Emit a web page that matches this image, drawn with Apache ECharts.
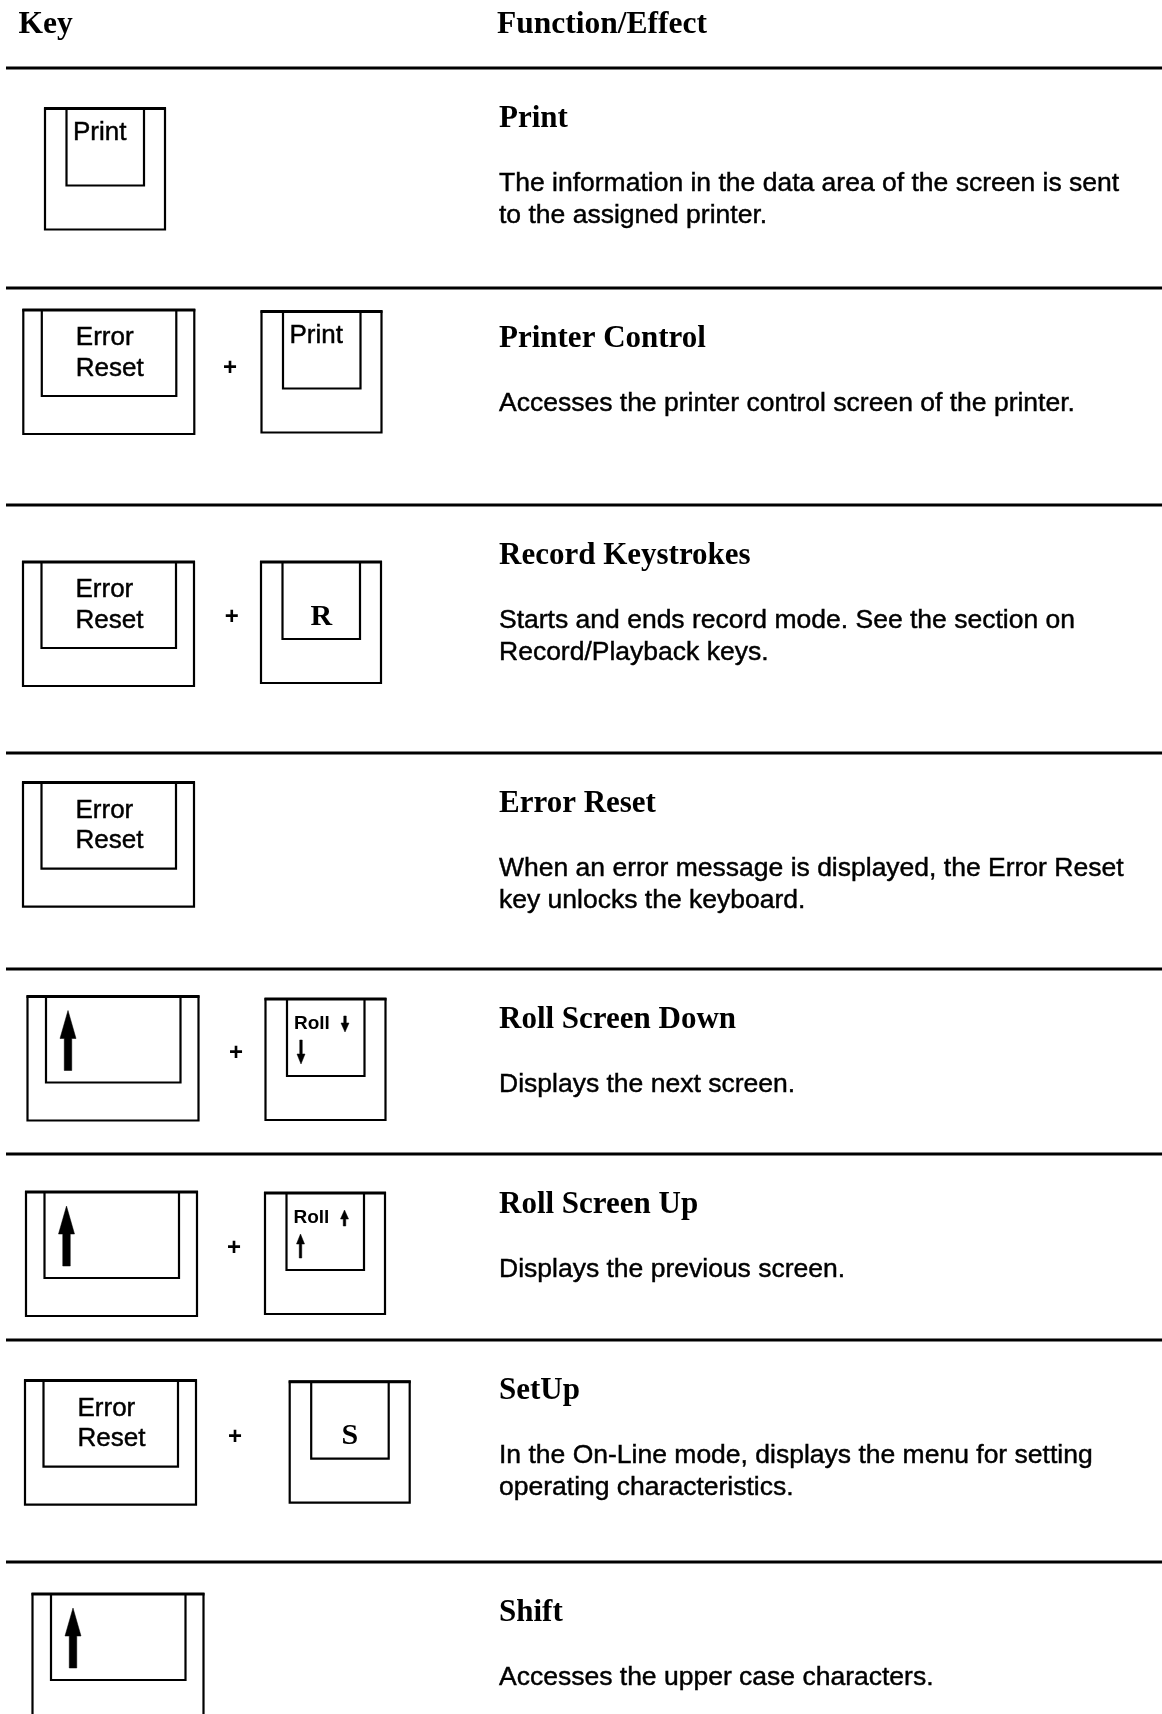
<!DOCTYPE html>
<html>
<head>
<meta charset="utf-8">
<script src="https://cdn.jsdelivr.net/npm/echarts@6/dist/echarts.min.js"></script>
<style>
  html, body { margin: 0; padding: 0; background: #fff; }
  #chart { width: 1162px; height: 1714px; }
</style>
</head>
<body>
<div id="chart"></div>
<script>
// ---- content (data) ----
const headers = ['Key', 'Function/Effect'];
const titles = ['Print', 'Printer Control', 'Record Keystrokes', 'Error Reset',
  'Roll Screen Down', 'Roll Screen Up', 'SetUp', 'Shift'];
const descriptions = [
  'The information in the data area of the screen is sent\nto the assigned printer.',
  'Accesses the printer control screen of the printer.',
  'Starts and ends record mode. See the section on\nRecord/Playback keys.',
  'When an error message is displayed, the Error Reset\nkey unlocks the keyboard.',
  'Displays the next screen.',
  'Displays the previous screen.',
  'In the On-Line mode, displays the menu for setting\noperating characteristics.',
  'Accesses the upper case characters.'
];
const keyCombos = [
  ['Print'],
  ['Error Reset', 'Print'],
  ['Error Reset', 'R'],
  ['Error Reset'],
  ['Shift', 'Roll Down'],
  ['Shift', 'Roll Up'],
  ['Error Reset', 'S'],
  ['Shift']
];

// ---- layout (positions, not data) ----
const ruleY = [68, 288, 505, 753, 969, 1154, 1340, 1562];
const keyPos = [
  [[45, 108.5]],
  [[23.3, 310], [261.5, 311.5]],
  [[23, 562], [261, 562]],
  [[23, 782.6]],
  [[27.5, 996.5], [265.5, 999]],
  [[26, 1192], [265, 1193]],
  [[25, 1380.6], [289.7, 1381.7]],
  [[32.5, 1594]]
];
const plusPos = [null, [230, 368], [231.7, 617.6], null, [236, 1053], [234, 1248], [235, 1437.5], null];

const SERIF = '"Liberation Serif", "DejaVu Serif", serif';
const SANS = '"Liberation Sans", Arial, Helvetica, sans-serif';
const INK = '#000';

const els = [];

function txt(x, y, text, font, align, valign, extra) {
  els.push({
    type: 'text', x: x, y: y, z: 10,
    style: Object.assign({
      text: text, font: font, fill: INK,
      textAlign: align || 'left', textVerticalAlign: valign || 'middle',
      align: align || 'left', verticalAlign: valign || 'middle'
    }, extra || {})
  });
}
const heavy = { stroke: INK, lineWidth: 0.45 };

function upArrow(cx, ty, by, hh, hw, sw, dir) {
  let pts;
  if (dir === 1) {
    pts = [[cx, ty], [cx + hw / 2, ty + hh], [cx + sw / 2, ty + hh], [cx + sw / 2, by],
      [cx - sw / 2, by], [cx - sw / 2, ty + hh], [cx - hw / 2, ty + hh]];
  } else {
    pts = [[cx, by], [cx + hw / 2, by - hh], [cx + sw / 2, by - hh], [cx + sw / 2, ty],
      [cx - sw / 2, ty], [cx - sw / 2, by - hh], [cx - hw / 2, by - hh]];
  }
  els.push({ type: 'polygon', z: 8, shape: { points: pts }, style: { fill: INK, stroke: INK, lineWidth: 0.5 } });
}

function drawKey(label, x, y) {
  const wide = (label === 'Error Reset' || label === 'Shift');
  const w = wide ? 171 : 120;
  const h = wide ? 124 : 121;
  const iL = wide ? 18.5 : 21.5;
  const iR = wide ? 18 : 21;
  const ih = wide ? 86 : 77;
  els.push({ type: 'rect', z: 5, shape: { x: x, y: y, width: w, height: h },
    style: { fill: '#fff', stroke: INK, lineWidth: 2.2 } });
  els.push({ type: 'polyline', z: 6, shape: { points: [[x + iL, y], [x + iL, y + ih], [x + w - iR, y + ih], [x + w - iR, y]] },
    style: { fill: null, stroke: INK, lineWidth: 2.2 } });
  els.push({ type: 'line', z: 7, shape: { x1: x - 1, y1: y, x2: x + w + 1, y2: y },
    style: { stroke: INK, lineWidth: 3 } });
  const il = x + iL, ir = x + w - iR;
  if (label === 'Error Reset') {
    txt(il + 34, y + 28, 'Error', '26px ' + SANS, 'left', 'middle', heavy);
    txt(il + 34, y + 58.5, 'Reset', '26px ' + SANS, 'left', 'middle', heavy);
  } else if (label === 'Print') {
    txt(il + 6.5, y + 24, 'Print', '26px ' + SANS, 'left', 'middle', heavy);
  } else if (label === 'R' || label === 'S') {
    txt((il + ir) / 2, y + 55, label, 'bold 30px ' + SERIF, 'center');
  } else if (label === 'Shift') {
    upArrow(il + 22, y + 14, y + 74, 28, 16, 7.5, 1);
  } else if (label === 'Roll Down' || label === 'Roll Up') {
    txt(il + 7, y + 24.5, 'Roll', 'bold 19px ' + SANS);
    const d = label === 'Roll Up' ? 1 : -1;
    upArrow(il + 58, y + 17, y + 33, 9, 8, 2.5, d);
    upArrow(il + 14, y + 41, y + 65, 10, 8, 2.5, d);
  }
}

// headers
txt(18.6, 25, headers[0], 'bold 31.5px ' + SERIF);
txt(497, 25, headers[1], 'bold 31.5px ' + SERIF);

// rows
titles.forEach(function (t, i) {
  const ry = ruleY[i];
  els.push({ type: 'line', z: 3, shape: { x1: 6, y1: ry, x2: 1162, y2: ry },
    style: { stroke: INK, lineWidth: 3.2 } });
  txt(499, ry + 50.5, t, 'bold 31px ' + SERIF);
  txt(499, ry + 115.5 - 16, descriptions[i], '26.5px ' + SANS, 'left', 'top',
    Object.assign({ lineHeight: 32 }, heavy));
  keyCombos[i].forEach(function (k, j) {
    drawKey(k, keyPos[i][j][0], keyPos[i][j][1]);
  });
  if (plusPos[i]) txt(plusPos[i][0], plusPos[i][1], '+', 'bold 24px ' + SANS, 'center');
});

const chart = echarts.init(document.getElementById('chart'), null, { renderer: 'canvas' });
chart.setOption({
  backgroundColor: '#fff',
  animation: false,
  graphic: { elements: els }
});
</script>
</body>
</html>
